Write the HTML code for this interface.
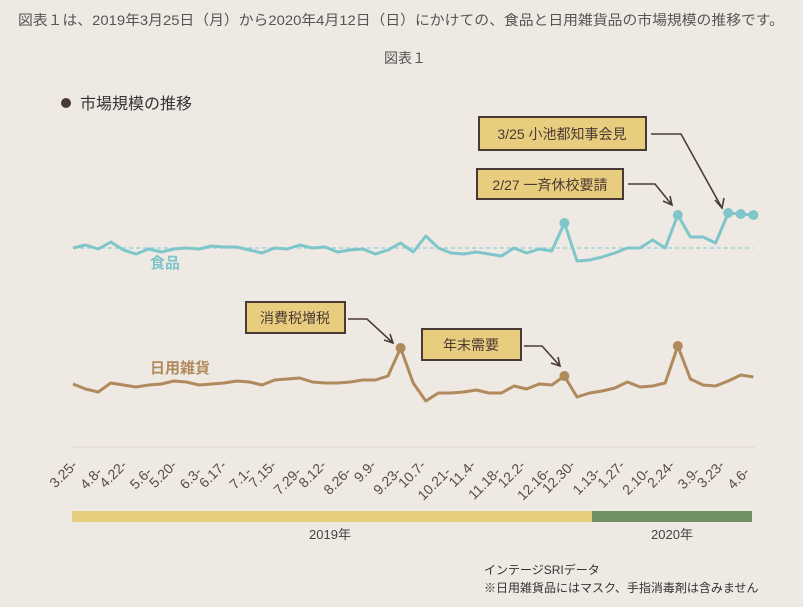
<!DOCTYPE html>
<html><head><meta charset="utf-8"><style>
body{margin:0;width:803px;height:602px;overflow:hidden;background:#efe9e3;font-family:"Liberation Sans","Noto Sans CJK JP",sans-serif;}
</style></head><body>
<svg width="803" height="602" xmlns="http://www.w3.org/2000/svg" font-family="Liberation Sans, Noto Sans CJK JP, sans-serif">
<rect width="803" height="602" fill="#efe9e3"/>
<text x="401" y="25" text-anchor="middle" font-size="14" fill="#555" textLength="766" lengthAdjust="spacingAndGlyphs">図表１は、2019年3月25日（月）から2020年4月12日（日）にかけての、食品と日用雑貨品の市場規模の推移です。</text>
<text x="405" y="63" text-anchor="middle" font-size="14" fill="#555">図表１</text>
<circle cx="66" cy="103" r="5" fill="#4a3a35"/>
<text x="80" y="109" font-size="16" fill="#333">市場規模の推移</text>
<line x1="73" y1="248" x2="753" y2="248" stroke="#8fd0d4" stroke-width="1.2" stroke-dasharray="4,3"/>
<line x1="72" y1="447" x2="755" y2="447" stroke="#e2dcd5" stroke-width="1.5"/>
<g id="lines"></g>
<text x="150" y="268" font-size="15" font-weight="bold" fill="#7fc6cb">食品</text>
<text x="150" y="373" font-size="15" font-weight="bold" fill="#b08a5c">日用雑貨</text>
<g stroke="#4a3a35" stroke-width="2" fill="#e9cd7e">
<rect x="479" y="117" width="167" height="33"/>
<rect x="477" y="169" width="146" height="30"/>
<rect x="246" y="302" width="99" height="31"/>
<rect x="422" y="329" width="99" height="31"/>
</g>
<g font-size="14" fill="#4a3a35" text-anchor="middle">
<text x="562" y="139">3/25  小池都知事会見</text>
<text x="550" y="190">2/27  一斉休校要請</text>
<text x="295" y="323">消費税増税</text>
<text x="471" y="350">年末需要</text>
</g>
<g stroke="#4a3a35" stroke-width="1.6" fill="none">
<polyline points="651,134 681,134 722,208"/><polyline points="715,200 722,208 724,198"/>
<polyline points="628,184 655,184 672,205"/><polyline points="663,201 672,205 670,196"/>
<polyline points="348,319 367,319 393,343"/><polyline points="384,340 393,343 390,334"/>
<polyline points="524,346 542,346 560,366"/><polyline points="551,363 560,366 558,357"/>
</g>
<g id="ticks" font-size="14" fill="#5a4a48"></g>
<rect x="72" y="511" width="520" height="11" fill="#e9cd7e"/>
<rect x="592" y="511" width="160" height="11" fill="#6f9164"/>
<text x="330" y="539" text-anchor="middle" font-size="13" fill="#444">2019年</text>
<text x="672" y="539" text-anchor="middle" font-size="13" fill="#444">2020年</text>
<text x="484" y="574" font-size="12" fill="#333">インテージSRIデータ</text>
<text x="484" y="592" font-size="12" fill="#333">※日用雑貨品にはマスク、手指消毒剤は含みません</text>
</svg>
<script>
var f=[248,245,249,242,250,254,249,252,249,248,249,246,247,247,250,253,248,249,245,248,247,252,250,249,254,250,243,252,236,248,253,254,252,254,256,248,253,249,251,223,261,260,257,253,248,248,240,248,215,237,237,243,213,214,215];
var m=[384,389,392,383,385,387,385,384,381,382,385,384,383,381,382,385,380,379,378,382,383,383,382,380,380,376,348,383,401,393,393,392,390,393,393,386,389,384,385,376,397,393,391,388,382,387,386,383,346,379,385,386,381,375,377];
var ns="http://www.w3.org/2000/svg",g=document.getElementById("lines");
function line(a,c,dots){var p=a.map(function(y,i){return (73+12.6*i).toFixed(1)+","+y}).join(" ");
var l=document.createElementNS(ns,"polyline");l.setAttribute("points",p);l.setAttribute("fill","none");l.setAttribute("stroke",c);l.setAttribute("stroke-width","3");l.setAttribute("stroke-linejoin","round");g.appendChild(l);
dots.forEach(function(i){var d=document.createElementNS(ns,"circle");d.setAttribute("cx",73+12.6*i);d.setAttribute("cy",a[i]);d.setAttribute("r","5");d.setAttribute("fill",c);g.appendChild(d);});}
line(f,"#7fc6cb",[39,48,52,53,54]);line(m,"#b08a5c",[26,39,48]);
var t=["3.25","4.8","4.22","5.6","5.20","6.3","6.17","7.1","7.15","7.29","8.12","8.26","9.9","9.23","10.7","10.21","11.4","11.18","12.2","12.16","12.30","1.13","1.27","2.10","2.24","3.9","3.23","4.6"];
var tg=document.getElementById("ticks");
t.forEach(function(s,i){var x=78+24.9*i,y=(i%2)?473:466;var e=document.createElementNS(ns,"text");e.setAttribute("x",x);e.setAttribute("y",y);e.setAttribute("text-anchor","end");e.setAttribute("transform","rotate(-45 "+x+" "+y+")");e.textContent=s+"-";tg.appendChild(e);});
</script>
</body></html>
